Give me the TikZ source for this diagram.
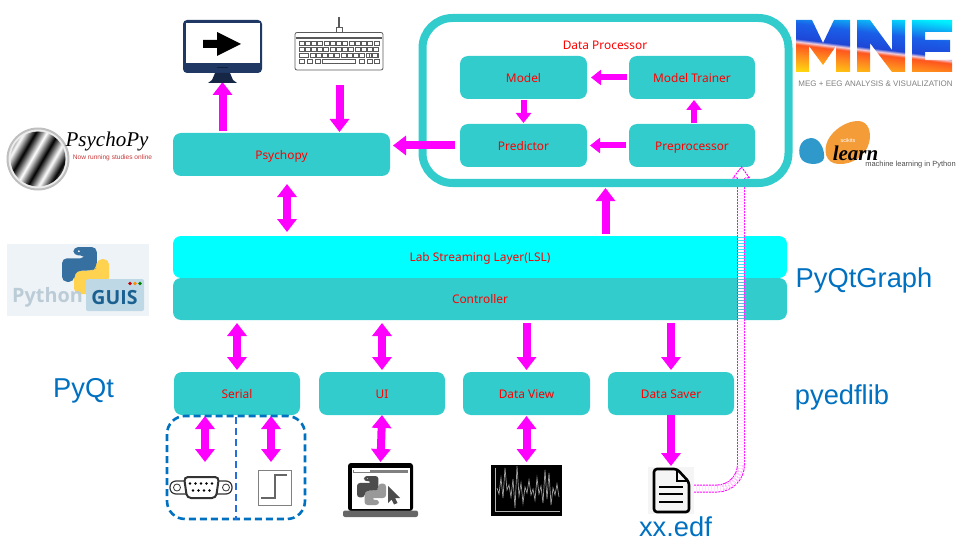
\documentclass[tikz,border=0pt]{standalone}
\usepackage{fontspec}
\usepackage{xcolor}
\usepackage{tikz}
\usetikzlibrary{shapes,arrows.meta,positioning}
\setmainfont{Liberation Sans}
\newfontfamily\boxfont{Noto Sans}
\newfontfamily\logofont{Liberation Serif}
\newfontfamily\guisfont{Open Sans}

\definecolor{boxteal}{RGB}{51,204,204}
\definecolor{pipecyan}{RGB}{0,255,255}
\definecolor{arrowpink}{RGB}{255,0,255}
\definecolor{textblue}{RGB}{0,112,192}
\definecolor{navyscreen}{RGB}{31,56,100}
\definecolor{keygray}{RGB}{90,90,90}
\definecolor{guisbg}{RGB}{238,243,248}
\definecolor{guisbox}{RGB}{191,216,230}
\definecolor{guisdark}{RGB}{26,96,144}
\definecolor{guisgray}{RGB}{188,204,214}
\definecolor{snakeblue}{RGB}{54,112,160}
\definecolor{snakeyellow}{RGB}{255,210,80}
\definecolor{skblue}{RGB}{48,153,204}
\definecolor{skorange}{RGB}{243,156,56}
\definecolor{mnecyan}{RGB}{0,240,255}
\definecolor{mneblue}{RGB}{26,95,232}
\definecolor{mnedeep}{RGB}{30,70,215}
\definecolor{mnepale}{RGB}{240,205,220}
\definecolor{mnered}{RGB}{255,85,30}
\definecolor{mneorange}{RGB}{255,140,30}
\definecolor{mneyellow}{RGB}{255,215,15}

\pgfdeclarehorizontalshading{gratingstripes}{100bp}{
  color(0bp)=(black); color(9bp)=(white); color(18bp)=(black); color(27bp)=(white);
  color(36bp)=(black); color(45bp)=(white); color(54bp)=(black); color(63bp)=(white);
  color(72bp)=(black); color(81bp)=(white); color(90bp)=(black); color(100bp)=(white)}
\pgfdeclareverticalshading{mnefill}{100bp}{
  color(0bp)=(mneyellow); color(42bp)=(mneyellow); color(46.3bp)=(mneorange); color(49.2bp)=(mnered);
  color(50bp)=(mnepale); color(50.8bp)=(mnedeep); color(55bp)=(mneblue); color(60.5bp)=(mnecyan); color(100bp)=(mnecyan)}

\tikzset{
  tealbox/.style={fill=boxteal, rounded corners=8pt, inner sep=0pt, outer sep=0pt, text=red,
    font=\boxfont\fontsize{11.9}{13}\selectfont, text height=11.5pt, text depth=2pt, minimum height=43pt},
  iconbox/.style={inner sep=0pt, outer sep=0pt},
  fatarrow/.style={draw=arrowpink, line width=8pt, -{Triangle[length=13pt,width=19pt]}},
  fatboth/.style={draw=arrowpink, line width=8pt, {Triangle[length=13pt,width=19pt]}-{Triangle[length=13pt,width=19pt]}},
  thinarrow/.style={draw=arrowpink, line width=6pt, -{Triangle[length=10pt,width=15pt]}},
  pipeline/.style={draw=arrowpink, line width=1pt, dash pattern=on 2pt off 1pt, double=white, double distance=6pt},
  bluelabel/.style={text=textblue, font=\fontsize{27.3}{30}\selectfont, inner sep=0pt}
}

% two coloured snakes, used on the logo and on the laptop
\newcommand{\snakelogo}[6]{
  \begin{scope}[shift={(#1,#2)}, scale=#3]
    \fill[#5, rounded corners=#6] (76,100) -- (26,100) -- (26,76) -- (26,56) -- (36,50) -- (64,50) -- (74,44) -- (74,26) -- (100,26) -- (100,76) -- (50,76) -- (50,82) -- (76,82) -- cycle;
    \fill[#4, rounded corners=#6] (24,0) -- (74,0) -- (74,44) -- (64,50) -- (36,50) -- (26,56) -- (26,74) -- (0,74) -- (0,24) -- (50,24) -- (50,18) -- (24,18) -- cycle;
    \fill[white] (36,9) circle[radius=4.5*#3 pt];
  \end{scope}
}

\begin{document}
\begin{tikzpicture}[x=1pt, y=-1pt]
\useasboundingbox (0,0) rectangle (960,540);

% Main blocks
\foreach \name/\boxtext/\xx/\yy/\boxw in {
    model/Model/523.5/77.5/127, trainer/Model Trainer/692/77.5/126,
    predictor/Predictor/523.5/145.5/127, preprocessor/Preprocessor/692/145.5/126,
    psychopy/Psychopy/281.5/154.5/217,
    serial/Serial/237/393.5/126, ui/UI/382/393.5/126,
    dataview/Data View/526.5/393.5/127, datasaver/Data Saver/671/393.5/126} {
    \node[tealbox, minimum width=\boxw pt] (\name) at (\xx,\yy) {\boxtext};
}
\node[tealbox, minimum width=614pt, minimum height=42pt, fill=pipecyan] (lsl) at (480,257) {Lab Streaming Layer(LSL)};
\node[tealbox, minimum width=614pt, minimum height=42pt] (controller) at (480,299) {Controller};
\node[tealbox, fill=none, minimum width=0pt, minimum height=0pt] (dataprocname) at (605,44.5) {Data Processor};

% Outside labels
\node[bluelabel] (pyqtgraph) at (864,280) {PyQtGraph};
\node[bluelabel] (pyqt) at (83.5,391) {PyQt};
\node[bluelabel] (pyedflib) at (842,397) {pyedflib};
\node[bluelabel] (xxedf) at (675.5,526.5) {xx.edf};

% Dashed hollow arrow, lies under the frame
\node[iconbox, minimum width=46pt, minimum height=47pt] (edf) at (671,490.5) {};
\coordinate (edftip) at (741.5,167);
\coordinate (pipeend) at (741,178);
\draw[pipeline, rounded corners=24pt] ([yshift=2pt]edf.east) -| (pipeend);
\draw[arrowpink, line width=1pt, dash pattern=on 2pt off 1pt, fill=white] (pipeend) ++(-3.5,0) -- ++(-4.5,0) -- (edftip) -- ++(8,11) -- ++(-4.5,0);

% Data processor frame
\node[iconbox, draw=boxteal, line width=8pt, rounded corners=30pt, minimum width=366pt, minimum height=165pt] (dataproc) at (605.5,100.5) {};

% Arrows inside the frame
\draw[thinarrow, shorten <=2pt, shorten >=4pt] (trainer.west) -- (model.east);
\draw[thinarrow, shorten <=3pt, shorten >=3pt] (preprocessor.west) -- (predictor.east);
\draw[thinarrow, shorten <=1pt, shorten >=1pt] (model.south) -- (predictor.north);
\draw[thinarrow, shorten <=1pt, shorten >=1pt] ([xshift=2pt]preprocessor.north) -- ([xshift=2pt]trainer.south);

% Arrows around psychopy and the layers
\node[iconbox, minimum width=79pt, minimum height=63pt] (monitor) at (222.5,51.5) {};
\node[iconbox, minimum width=88pt, minimum height=53pt] (keyboard) at (339.5,43.5) {};
\draw[fatarrow, shorten <=2pt, shorten >=-1pt] (psychopy.north -| monitor.south) -- (monitor.south);
\draw[fatarrow, shorten <=15pt, shorten >=1pt] (keyboard.south) -- (keyboard.south |- psychopy.north);
\draw[fatarrow, shorten <=5pt, shorten >=3pt] (predictor.west) -- (predictor.west -| psychopy.east);
\draw[fatboth, shorten <=8pt, shorten >=4pt] ([xshift=5.5pt]psychopy.south) -- ([xshift=5.5pt]psychopy.south |- lsl.north);
\draw[fatarrow, shorten <=2pt, shorten >=5pt] (lsl.north -| dataproc.south) -- (dataproc.south);
\draw[fatboth, shorten <=3pt, shorten >=2pt] (controller.south -| serial.north) -- (serial.north);
\draw[fatboth, shorten <=3pt, shorten >=2pt] (controller.south -| ui.north) -- (ui.north);
\draw[fatarrow, shorten <=3pt, shorten >=2pt] (controller.south -| dataview.north) -- (dataview.north);
\draw[fatarrow, shorten <=3pt, shorten >=2pt] (controller.south -| datasaver.north) -- (datasaver.north);

% Arrows down to the devices
\coordinate (dsubtop) at (205,462);
\coordinate (steptop) at (271,462);
\node[iconbox, minimum width=75pt, minimum height=54pt] (laptop) at (380.5,490) {};
\node[iconbox, minimum width=71pt, minimum height=51pt] (signal) at (526.5,490.5) {};
\draw[fatboth, shorten <=1pt] (serial.south -| dsubtop) -- (dsubtop);
\draw[fatboth, shorten <=1pt] (serial.south -| steptop) -- (steptop);
\draw[fatboth, shorten <=0pt, shorten >=1pt] (ui.south) -- (laptop.north);
\draw[fatboth, shorten <=1pt, shorten >=3pt] (dataview.south) -- (signal.north);
\draw[fatarrow, shorten >=1pt, shorten <=0pt] (datasaver.south) -- (edf.north -| datasaver.south);

% Dashed frame round the devices
\draw[textblue, line width=2.6pt, dash pattern=on 7pt off 4pt, rounded corners=18pt] (167,416) rectangle (305,519);
\draw[blue!60!cyan!70!gray, line width=2.6pt, dash pattern=on 7pt off 4pt] (236,417) -- (236,520);

% Monitor
\fill[navyscreen, rounded corners=4pt] (183,20) rectangle (262,73);
\fill[white] (185.5,23) rectangle (260,63);
\fill[navyscreen!70!black] (208,83) -- (212,80) -- (215,73) -- (230,73) -- (233,80) -- (237,83) -- cycle;
\fill[navyscreen!60!black] (217,67) rectangle (228,68.5);
\fill[black] (203,40) -- (217,40) -- (217,32) -- (241,44) -- (217,56) -- (217,48) -- (203,48) -- cycle;

% Keyboard
\draw[keygray, line width=1.8pt] (339,17) -- (339,28);
\draw[keygray, line width=0.8pt, fill=white] (336.5,27) rectangle (342,32);
\draw[keygray, line width=0.8pt, rounded corners=2pt, fill=white] (295,32.5) rectangle (383,70);
\fill[keygray] (296,37) rectangle (382,39.5);
\foreach \k in {0,...,12} {
    \draw[keygray, line width=0.6pt] (299+\k*6.25,41) rectangle ++(4.8,4.2);
}
\foreach \k in {0,...,11} {
    \draw[keygray, line width=0.6pt] (305+\k*6.25,47) rectangle ++(4.8,4.2);
}
\draw[keygray, line width=0.6pt] (299,47) rectangle ++(4.8,4.2);
\draw[keygray, line width=0.6pt] (310,53.5) rectangle ++(4.8,4.2);
\foreach \k in {0,...,9} {
    \draw[keygray, line width=0.6pt] (316+\k*6.25,53.5) rectangle ++(4.8,4.2);
}
\draw[keygray, line width=0.6pt] (299,53.5) rectangle ++(9,4.2);
\draw[keygray, line width=0.6pt] (369.5,53.5) rectangle ++(9,4.2);
\foreach \xx in {299,307,315,359,367,374} {
    \draw[keygray, line width=0.6pt] (\xx,59.5) rectangle ++(5.5,4.2);
}
\draw[keygray, line width=0.6pt] (322,59.5) rectangle ++(33,4.2);

% PsychoPy logo
\draw[gray!50, line width=2pt, fill=gray!15] (38,159) circle[radius=30.5pt];
\shade[shading=gratingstripes, shading angle=-30] (38,159) circle[radius=27.5pt];
\node[iconbox, text=black, font=\logofont\itshape\fontsize{21}{21}\selectfont] (psychopylogo) at (107,141) {PsychoPy};
\node[iconbox, text=red!55!gray, font=\fontsize{6.6}{7}\selectfont] (psychopyline) at (112.5,158) {Now running studies online};

% Python GUIs logo
\fill[guisbg] (7,244) rectangle (149,316);
\snakelogo{62}{247}{0.47}{snakeblue}{snakeyellow}{5pt}
\fill[guisbg] (60,301) rectangle (112,316);
\node[iconbox, text=guisgray, font=\guisfont\bfseries\fontsize{19.8}{20}\selectfont] (pythonword) at (47.5,297.5) {Python};
\fill[guisbox, rounded corners=2pt] (86,279) rectangle (144,311);
\node[iconbox, text=guisdark, font=\guisfont\bfseries\fontsize{19.5}{20}\selectfont] (guisword) at (114.5,298) {GUIS};
\foreach \xx/\dotcol in {130/red!80!black, 135/orange!90!yellow, 140/green!50!black} {
    \fill[\dotcol] (\xx,283.5) circle[radius=1.8pt];
}

% MNE logo
\begin{scope}
    \clip (796,20) -- (812,20) -- (823,43) -- (834,20) -- (850,20) -- (850,72) -- (836,72) -- (836,46) -- (823,65) -- (809,46) -- (809,72) -- (796,72) -- cycle
          (857,20) -- (870,20) -- (892,50) -- (892,20) -- (905,20) -- (905,72) -- (892,72) -- (870,43) -- (870,72) -- (857,72) -- cycle
          (912,20) -- (952,20) -- (952,32) -- (925,32) -- (925,40) -- (950,40) -- (950,52) -- (925,52) -- (925,60) -- (952,60) -- (952,72) -- (912,72) -- cycle;
    \shade[shading=mnefill, shading angle=-7] (784,-39) rectangle (964,141);
\end{scope}
\node[iconbox, text=gray, font=\fontsize{8}{9}\selectfont] (mnecaption) at (875.5,84) {MEG + EEG  ANALYSIS \& VISUALIZATION};

% Scikit learn logo
\fill[skblue] (811,138) .. controls (820,138) and (825,150) .. (824,158) .. controls (823,165) and (808,166) .. (802,160) .. controls (797,154) and (798,139) .. (811,138) -- cycle;
\fill[skorange] (858,121) .. controls (868,121) and (872,132) .. (869,143) .. controls (866,155) and (853,165) .. (838,164) .. controls (825,163) and (823,150) .. (828,140) .. controls (833,130) and (846,121) .. (858,121) -- cycle;
\node[iconbox, text=white, font=\fontsize{5.5}{6}\selectfont] (skscikits) at (848,141) {scikits};
\node[iconbox, text=black, font=\logofont\bfseries\itshape\fontsize{21}{21}\selectfont] (sklearnword) at (855.5,153) {learn};
\node[iconbox, text=gray!60!black, font=\fontsize{7.5}{8}\selectfont] (skcaption) at (910.5,164.5) {machine learning in Python};

% D-sub connector
\draw[black!80, line width=1.2pt, fill=white, rounded corners=6pt] (170,481) rectangle (232,494);
\draw[black!80, line width=0.8pt] (177,487.5) circle[radius=3.5pt];
\draw[black!80, line width=0.8pt] (226,487.5) circle[radius=3.5pt];
\draw[black!80, line width=2pt, fill=white, rounded corners=4pt] (184,477) -- (219,477) -- (216,498) -- (187,498) -- cycle;
\foreach \k in {0,...,4} {
    \fill[black] (190+\k*5.5,483.5) circle[radius=1.3pt];
}
\foreach \k in {0,...,3} {
    \fill[black] (193+\k*5.5,490.5) circle[radius=1.3pt];
}

% Step signal box
\draw[gray, line width=0.9pt] (258,470) rectangle (291,505);
\draw[gray!80!black, line width=1.1pt] (261,498) -- (275,498) -- (275,475) -- (287,475);

% Laptop with snakes
\fill[black, rounded corners=3pt] (348,511) -- (348,463) -- (413,463) -- (413,511) -- cycle;
\fill[white] (351.5,468) rectangle (409.5,509);
\fill[gray] (353,469.5) rectangle (408,473);
\fill[white] (354,470.3) rectangle (370,472.3);
\snakelogo{357}{476}{0.29}{black!70}{gray!80}{3pt}
\fill[black!70] (388,486) -- (400,498) -- (395,498) -- (397.5,503) -- (394,504.5) -- (391.5,499.5) -- (388,503) -- cycle;
\fill[gray!80!black, rounded corners=2pt] (343,510.5) rectangle (418,517);

% Signal trace
\fill[black] (491,465) rectangle (562,516);
\draw[gray!60, line width=0.5pt] (495,468) -- (495,511) -- (560,511);
\draw[gray!75, line width=0.7pt] plot coordinates {(497,488) (499,494) (501,478) (503,498) (505,468) (507,490) (509,485) (511,497) (513,479) (515,508) (517,466) (519,496) (521,483) (523,503) (525,487) (527,493) (529,480) (531,495) (533,489) (535,500) (537,478) (539,494) (541,486) (543,503) (545,470) (547,499) (549,473) (551,505) (553,488) (555,495) (557,484) (559,497)};

% File
\fill[gray!8] (648,467) rectangle (694,514);
\draw[black, line width=2.6pt, rounded corners=3pt, fill=gray!8] (654,469) -- (677,469) -- (689,482) -- (689,512) -- (654,512) -- cycle;
\draw[black, line width=1.8pt] (677,469) -- (677,481) -- (689,481);
\foreach \yy in {487,494,502} {
    \draw[black, line width=2.2pt] (659,\yy) -- (683,\yy);
}

\end{tikzpicture}
\end{document}
